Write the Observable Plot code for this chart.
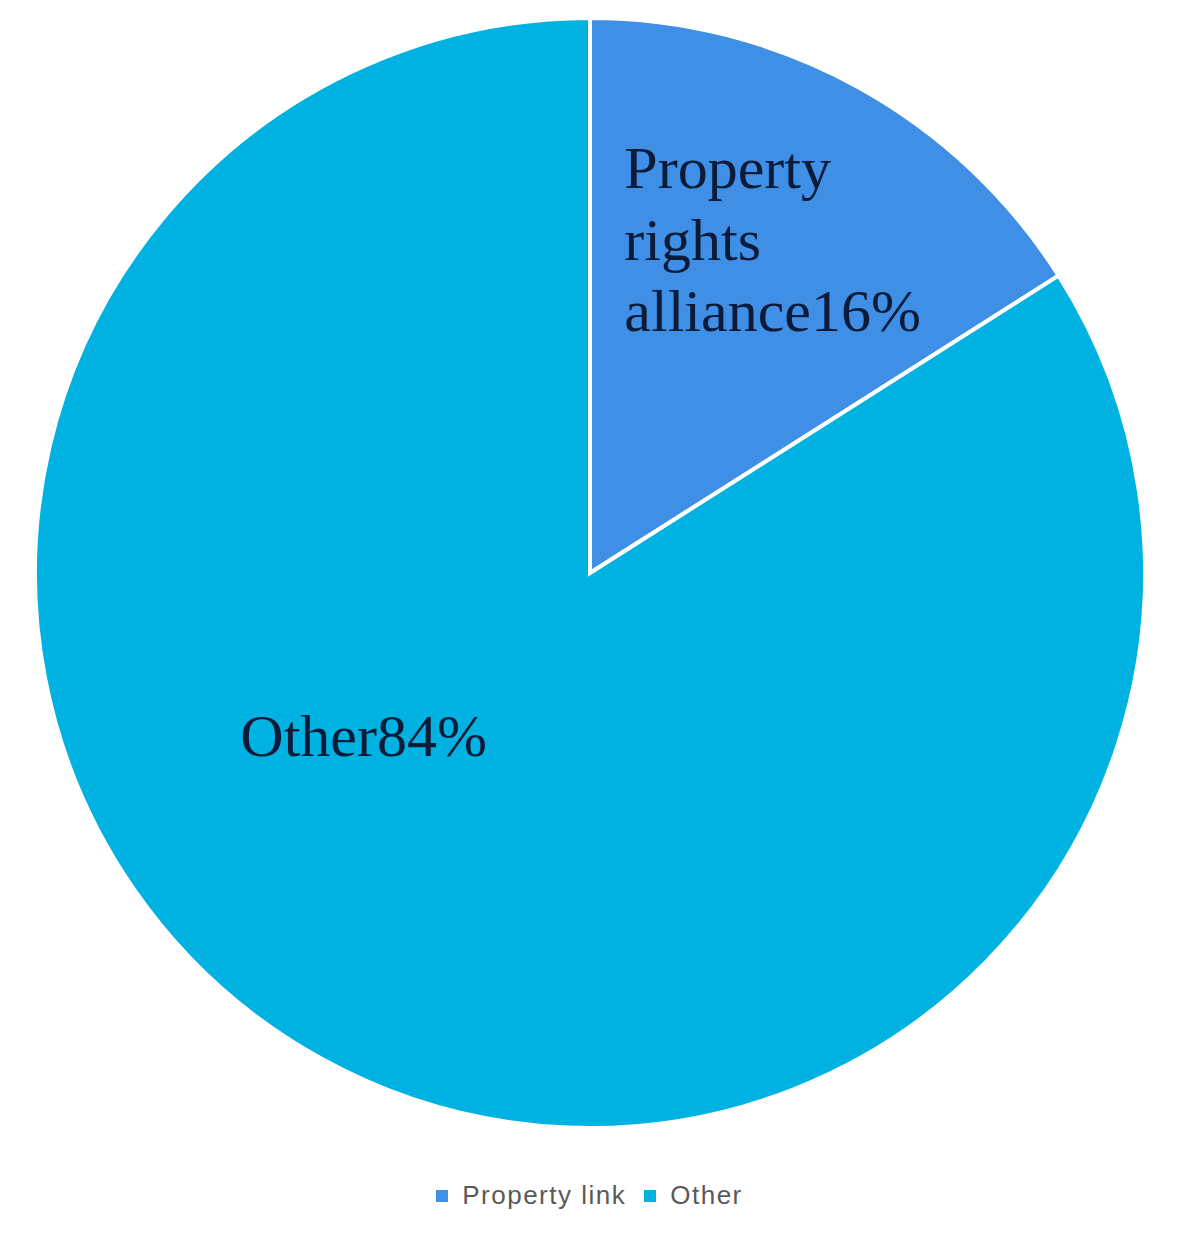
<!DOCTYPE html>
<html>
<head>
<meta charset="utf-8">
<script src="https://cdn.jsdelivr.net/npm/d3@7"></script>
<script src="https://cdn.jsdelivr.net/npm/@observablehq/plot@0.6"></script>
<style>
  html, body { margin: 0; padding: 0; background: #ffffff; }
  #chart { width: 1179px; }
  #legend { display: flex; justify-content: center; align-items: center; margin-top: 20px;
    font-family: "Liberation Sans", Arial, sans-serif; font-size: 26px; color: #595959; letter-spacing: 1.5px; }
  .item { display: flex; align-items: center; margin: 0 9px; }
  .sw { width: 12px; height: 12px; margin-right: 14px; }
</style>
</head>
<body>
<div id="chart"></div>
<div id="legend"></div>
<script>
// ---- data ----
const categories = ["Property link", "Other"];
const shares = [16, 84];
const sliceLabels = ["Property\nrights\nalliance16%", "Other84%"];

// ---- styles / layout ----
const colors = ["#3f8fe6", "#00b2e2"];
const labelAnchors = [[0.061, 0.788], [-0.631, -0.239]];

const slices = categories.map((c, i) => ({category: c, value: shares[i], label: sliceLabels[i]}));

function pieMark(data) {
  return (index, scales, values, dims) => {
    const cx = scales.x(0), cy = scales.y(0);
    const r = (scales.x(1) - scales.x(-1)) / 2;
    const arcs = d3.pie().sort(null).value(d => d.value)(data);
    const arc = d3.arc().innerRadius(0).outerRadius(r);
    const g = d3.create("svg:g").attr("transform", `translate(${cx},${cy})`);
    g.selectAll("path").data(arcs).join("path")
      .attr("d", arc)
      .attr("fill", (d, i) => colors[i])
      .attr("stroke", "#ffffff")
      .attr("stroke-width", 4)
      .attr("stroke-linejoin", "miter");
    return g.node();
  };
}

const plot = Plot.plot({
  width: 1179,
  height: 1160,
  margin: 0,
  x: {domain: [-1, 1], range: [35, 1145], axis: null},
  y: {domain: [-1, 1], range: [1126, 20], axis: null},
  style: {background: "transparent"},
  marks: [
    pieMark(slices),
    Plot.text(slices, {
      x: (d, i) => labelAnchors[i][0],
      y: (d, i) => labelAnchors[i][1],
      text: "label",
      textAnchor: "start",
      lineAnchor: "top",
      lineHeight: 1.19,
      fontSize: 60,
      fontFamily: "Liberation Serif, Times New Roman, serif",
      fill: "#0c1c38"
    })
  ]
});
document.getElementById("chart").appendChild(plot);

const legend = document.getElementById("legend");
categories.forEach((c, i) => {
  const it = document.createElement("div");
  it.className = "item";
  const sw = document.createElement("span");
  sw.className = "sw";
  sw.style.background = colors[i];
  const t = document.createElement("span");
  t.textContent = c;
  it.appendChild(sw); it.appendChild(t);
  legend.appendChild(it);
});
</script>
</body>
</html>
